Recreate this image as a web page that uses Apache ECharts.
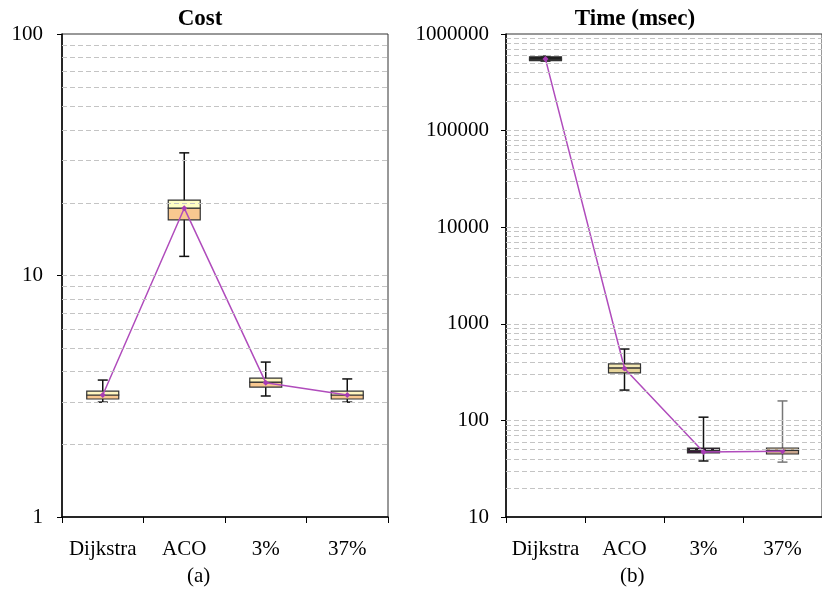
<!DOCTYPE html>
<html>
<head>
<meta charset="utf-8">
<script src="https://cdn.jsdelivr.net/npm/echarts@6/dist/echarts.min.js"></script>
<style>
  html, body { margin: 0; padding: 0; background: #fff; }
  #chart { width: 822px; height: 594px; }
</style>
</head>
<body>
<div id="chart"></div>
<script>
// categories
const categories = ["Dijkstra", "ACO", "3%", "37%"];

// (a) Cost: [min, q1, median, q3, max] per category
const costBoxes = [
  [2.99, 3.08, 3.2, 3.32, 3.69],
  [12.0, 17.0, 19.0, 20.5, 32.2],
  [3.17, 3.45, 3.62, 3.76, 4.38],
  [2.99, 3.08, 3.2, 3.32, 3.73]
];
const costMeans = [3.2, 19, 3.6, 3.2];

// (b) Time (msec): [min, q1, median, q3, max]
const timeBoxes = [
  [525000, 530000, 550000, 580000, 590000],
  [206, 310, 349, 384, 548],
  [38, 46, 48.8, 51.8, 108],
  [37, 44.9, 49, 51.8, 159]
];
const timeMeans = [550000, 345, 47, 48];

// minor gridline values
const costGrid = [2, 3, 4, 5, 6, 7, 8, 9, 10, 20, 30, 40, 50, 60, 70, 80, 90];
const timeGrid = [];
[10, 100, 1000, 10000, 100000].forEach(function (d) {
  for (let k = 2; k <= 10; k++) timeGrid.push(d * k);
});
timeGrid.pop();

// box colours (lower half, upper half, whisker)
const costStyle = [
  ["#f8c890", "#fff6c0", "#111"],
  ["#f8c890", "#ffffc4", "#111"],
  ["#f8c890", "#fff6c0", "#111"],
  ["#f8c890", "#fff6c0", "#111"]
];
const timeStyle = [
  ["#111", "#111", "#111"],
  ["#e6d49a", "#f4e8b4", "#111"],
  ["#3a1a3a", "#2a1a2a", "#111"],
  ["#c8a48c", "#dcc4a0", "#777"]
];

const FONT = "Liberation Serif";
const chart = echarts.init(document.getElementById("chart"));

function boxRenderer(styles) {
  return function (params, api) {
    const x = api.value(0);
    const pMin = api.coord([x, api.value(1)]);
    const pQ1 = api.coord([x, api.value(2)]);
    const pMed = api.coord([x, api.value(3)]);
    const pQ3 = api.coord([x, api.value(4)]);
    const pMax = api.coord([x, api.value(5)]);
    const st = styles[params.dataIndex];
    const cx = pMed[0];
    const hw = 16, cap = 5;
    const wStyle = { stroke: st[2], lineWidth: 1.5 };
    return {
      type: "group",
      children: [
        { type: "line", shape: { x1: cx, y1: pMax[1], x2: cx, y2: pMin[1] }, style: wStyle },
        { type: "line", shape: { x1: cx - cap, y1: pMax[1], x2: cx + cap, y2: pMax[1] }, style: wStyle },
        { type: "line", shape: { x1: cx - cap, y1: pMin[1], x2: cx + cap, y2: pMin[1] }, style: wStyle },
        { type: "rect", shape: { x: cx - hw, y: pMed[1], width: hw * 2, height: pQ1[1] - pMed[1] },
          style: { fill: st[0], stroke: "#333", lineWidth: 1.2 } },
        { type: "rect", shape: { x: cx - hw, y: pQ3[1], width: hw * 2, height: pMed[1] - pQ3[1] },
          style: { fill: st[1], stroke: "#333", lineWidth: 1.2 } }
      ]
    };
  };
}

function yAxis(idx, min, max, margin) {
  return {
    type: "log", logBase: 10, gridIndex: idx, min: min, max: max,
    axisLine: { show: true, lineStyle: { color: "#000", width: 1.5 } },
    axisTick: { show: true, inside: false, length: 5, lineStyle: { color: "#000" } },
    axisLabel: { fontFamily: FONT, fontSize: 21, color: "#000", margin: margin,
      formatter: function (v) { return String(Math.round(v)); } },
    splitLine: { show: false },
    minorTick: { show: false },
    minorSplitLine: { show: false }
  };
}

function xAxis(idx) {
  return {
    type: "category", gridIndex: idx, data: categories, boundaryGap: true,
    axisLine: { show: true, lineStyle: { color: "#000", width: 1.5 } },
    axisTick: { show: true, inside: false, length: 6, interval: 0, lineStyle: { color: "#000" } },
    axisLabel: { fontFamily: FONT, fontSize: 21, color: "#000", margin: 22, interval: 0, hideOverlap: false },
    splitLine: { show: false }
  };
}

function gridLines(vals) {
  return {
    silent: true, symbol: "none", animation: false,
    label: { show: false },
    lineStyle: { type: [5, 3], color: "#c4c4c4", width: 1 },
    data: vals.map(function (v) { return { yAxis: v }; })
  };
}

function seriesFor(idx, boxes, means, styles, gridVals) {
  return [
    {
      type: "line", xAxisIndex: idx, yAxisIndex: idx, data: means, z: 1,
      showSymbol: false, lineStyle: { opacity: 0 }, silent: true,
      markLine: gridLines(gridVals)
    },
    {
      type: "custom", xAxisIndex: idx, yAxisIndex: idx, z: 3,
      renderItem: boxRenderer(styles),
      encode: { x: 0, y: [1, 2, 3, 4, 5] },
      data: boxes.map(function (b, i) { return [i].concat(b); })
    },
    {
      type: "line", xAxisIndex: idx, yAxisIndex: idx, data: means, z: 4,
      symbol: "diamond", symbolSize: 6,
      itemStyle: { color: "#a83cb4" },
      lineStyle: { color: "#b04cbc", width: 1.5 }
    }
  ];
}

chart.setOption({
  animation: false,
  backgroundColor: "#fff",
  title: [
    { text: "Cost", left: 195, top: 3, textAlign: "center",
      textStyle: { fontFamily: FONT, fontSize: 23, fontWeight: "bold", color: "#000" } },
    { text: "Time (msec)", left: 630, top: 3, textAlign: "center",
      textStyle: { fontFamily: FONT, fontSize: 23, fontWeight: "bold", color: "#000" } }
  ],
  grid: [
    { left: 62, top: 34, width: 326, height: 483, show: true, borderColor: "#333", borderWidth: 1 },
    { left: 506, top: 34, width: 321, height: 483, show: true, borderColor: "#333", borderWidth: 1 }
  ],
  xAxis: [xAxis(0), xAxis(1)],
  yAxis: [yAxis(0, 1, 100, 19), yAxis(1, 10, 1000000, 17)],
  series: []
    .concat(seriesFor(0, costBoxes, costMeans, costStyle, costGrid))
    .concat(seriesFor(1, timeBoxes, timeMeans, timeStyle, timeGrid)),
  graphic: [
    { type: "text", left: 187, top: 566,
      style: { text: "(a)", fontFamily: FONT, fontSize: 21, fill: "#000" } },
    { type: "text", left: 620, top: 566,
      style: { text: "(b)", fontFamily: FONT, fontSize: 21, fill: "#000" } }
  ]
});
</script>
</body>
</html>
